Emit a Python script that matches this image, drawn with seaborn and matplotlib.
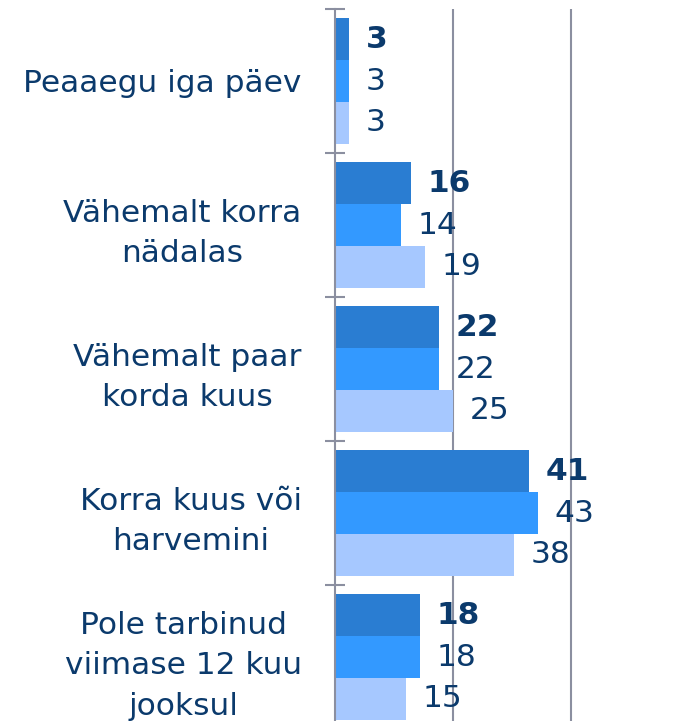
import matplotlib
matplotlib.use("Agg")
import matplotlib.pyplot as plt
import seaborn as sns
import pandas as pd

categories = ["Peaaegu iga päev", "Vähemalt korra\nnädalas", "Vähemalt paar\nkorda kuus",
              "Korra kuus või\nharvemini", "Pole tarbinud\nviimase 12 kuu\njooksul"]
series_names = ["A", "B", "C"]
series_a = [3, 16, 22, 41, 18]
series_b = [3, 14, 22, 43, 18]
series_c = [3, 19, 25, 38, 15]
colors = ["#2a7dd2", "#3399ff", "#a6c8ff"]
text_color = "#0b3a6c"
grid_color = "#8b8fa0"

rows = []
for name, vals in zip(series_names, [series_a, series_b, series_c]):
    for c, v in zip(categories, vals):
        rows.append({"cat": c, "series": name, "val": v})
df = pd.DataFrame(rows)

sns.set_style("white")
plt.rcParams['font.family'] = ['DejaVu Sans']

fig = plt.figure(figsize=(6.81, 7.21), dpi=100)
ax = fig.add_axes([335/681, -8/721, 1 - 335/681, 720/721])

sns.barplot(data=df, y="cat", x="val", hue="series", order=categories,
            hue_order=series_names, palette=colors, orient="h", width=0.87,
            linewidth=0, saturation=1, ax=ax, legend=False)

ax.set_xlim(0, 73.3)
ax.set_ylim(4.5, -0.5)
ax.set_xticks([25, 50])
ax.set_xticklabels([])
ax.tick_params(axis="x", length=0)
ax.grid(axis="x", color=grid_color, linewidth=1.5)
ax.set_axisbelow(True)
ax.set_xlabel("")
ax.set_ylabel("")

fs = 22.5
ax.set_yticks(range(len(categories)))
ax.set_yticklabels(categories, fontsize=fs, color=text_color, ha="right",
                   multialignment="center", linespacing=1.5)
ax.tick_params(axis="y", which="major", length=0, pad=24)
ax.set_yticks([i - 0.5 for i in range(len(categories) + 1)], minor=True)
ax.tick_params(axis="y", which="minor", left=True, direction="inout", length=15,
               width=1.5, color=grid_color)

for s in ["top", "right", "bottom"]:
    ax.spines[s].set_visible(False)
ax.spines["left"].set_color(grid_color)
ax.spines["left"].set_linewidth(1.5)

for i, cont in enumerate(ax.containers):
    ax.bar_label(cont, labels=[str(v) for v in [series_a, series_b, series_c][i]],
                 padding=12, fontsize=fs, color=text_color,
                 fontweight="bold" if i == 0 else "normal")

fig.savefig("out.png", dpi=100)
